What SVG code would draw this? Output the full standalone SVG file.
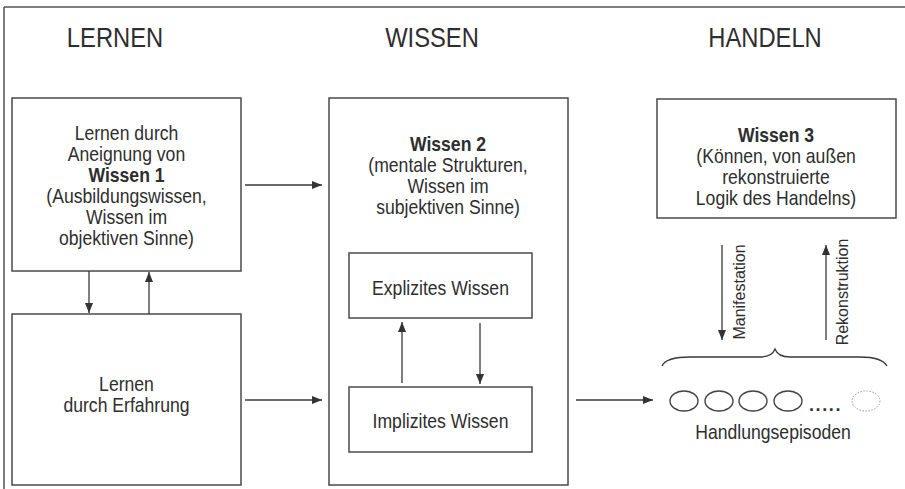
<svg xmlns="http://www.w3.org/2000/svg" width="905" height="489" viewBox="0 0 905 489">
<style>
.box{fill:#fff;stroke:#4a4a4a;stroke-width:1.5}
.t{font-family:"Liberation Sans",Arial,sans-serif;font-size:20px;fill:#2e2e2e;text-anchor:middle}
.b{font-weight:bold}
.title{font-family:"Liberation Sans",Arial,sans-serif;font-size:27px;fill:#2e2e2e;text-anchor:middle}
.v{font-family:"Liberation Sans",Arial,sans-serif;font-size:16px;fill:#2e2e2e;text-anchor:middle}
.c{fill:none;stroke:#3a3a3a;stroke-width:1.3}
.ov{fill:none;stroke:#444;stroke-width:1.4}
</style>
<defs>
<marker id="ah" markerUnits="userSpaceOnUse" markerWidth="10" markerHeight="8" refX="10" refY="4" orient="auto">
<path d="M0,0 L10,4 L0,8 z" fill="#333"/>
</marker>
</defs>
<rect width="905" height="489" fill="#fff"/>
<g id="frame" fill="none" stroke="#555" stroke-width="1.5">
<line x1="4" y1="7" x2="905" y2="7"/>
<line x1="4" y1="7" x2="4" y2="489"/>
</g>
<g id="titles">
<g transform="translate(115 0) scale(0.88 1)"><text class="title" x="0" y="47">LERNEN</text></g>
<g transform="translate(432 0) scale(0.88 1)"><text class="title" x="0" y="47">WISSEN</text></g>
<g transform="translate(765 0) scale(0.88 1)"><text class="title" x="0" y="47">HANDELN</text></g>
</g>
<g id="wissen1">
<rect class="box" x="12" y="98" width="229" height="173"/>
<g transform="translate(126.5 0) scale(0.88 1)">
<text class="t" x="0" y="140">Lernen durch</text>
<text class="t" x="0" y="161">Aneignung von</text>
<text class="t b" x="0" y="182">Wissen 1</text>
<text class="t" x="0" y="203">(Ausbildungswissen,</text>
<text class="t" x="0" y="224">Wissen im</text>
<text class="t" x="0" y="245">objektiven Sinne)</text>
</g>
</g>
<g id="erfahrung">
<rect class="box" x="12" y="314" width="229" height="171"/>
<g transform="translate(126.5 0) scale(0.88 1)">
<text class="t" x="0" y="391">Lernen</text>
<text class="t" x="0" y="412">durch Erfahrung</text>
</g>
</g>
<g id="wissen2">
<rect class="box" x="329" y="98" width="239" height="387"/>
<g transform="translate(448 0) scale(0.88 1)">
<text class="t b" x="0" y="151">Wissen 2</text>
<text class="t" x="0" y="172">(mentale Strukturen,</text>
<text class="t" x="0" y="193">Wissen im</text>
<text class="t" x="0" y="214">subjektiven Sinne)</text>
</g>
</g>
<g id="explizit">
<rect class="box" x="349" y="253" width="183" height="65"/>
<g transform="translate(440.5 0) scale(0.88 1)"><text class="t" x="0" y="295">Explizites Wissen</text></g>
</g>
<g id="implizit">
<rect class="box" x="349" y="387" width="183" height="65"/>
<g transform="translate(440.5 0) scale(0.88 1)"><text class="t" x="0" y="428">Implizites Wissen</text></g>
</g>
<g id="wissen3">
<rect class="box" x="657" y="99" width="239" height="119"/>
<g transform="translate(776 0) scale(0.88 1)">
<text class="t b" x="0" y="142">Wissen 3</text>
<text class="t" x="0" y="163">(Können, von außen</text>
<text class="t" x="0" y="184">rekonstruierte</text>
<text class="t" x="0" y="205">Logik des Handelns)</text>
</g>
</g>
<g id="episoden">
<ellipse class="ov" cx="684" cy="401" rx="14" ry="10"/>
<ellipse class="ov" cx="719" cy="401" rx="14" ry="10"/>
<ellipse class="ov" cx="753" cy="401" rx="14" ry="10"/>
<ellipse class="ov" cx="788" cy="401" rx="14" ry="10"/>
<text x="809" y="411" font-family="Liberation Sans, Arial, sans-serif" font-size="18" font-weight="bold" fill="#333" letter-spacing="1.6">.....</text>
<ellipse cx="866" cy="401" rx="14" ry="10" fill="none" stroke="#999" stroke-width="1" stroke-dasharray="1.5 1.5"/>
<g transform="translate(773 0) scale(0.88 1)"><text class="t" x="0" y="439">Handlungsepisoden</text></g>
</g>
<g id="connectors">
<line class="c" x1="245" y1="185" x2="322" y2="185" marker-end="url(#ah)"/>
<line class="c" x1="245" y1="400" x2="322" y2="400" marker-end="url(#ah)"/>
<line class="c" x1="576" y1="400" x2="653" y2="400" marker-end="url(#ah)"/>
<line class="c" x1="89" y1="271" x2="89" y2="313" marker-end="url(#ah)"/>
<line class="c" x1="149" y1="314" x2="149" y2="272" marker-end="url(#ah)"/>
<line class="c" x1="402" y1="383" x2="402" y2="322" marker-end="url(#ah)"/>
<line class="c" x1="480" y1="323" x2="480" y2="384" marker-end="url(#ah)"/>
<line class="c" x1="722" y1="245" x2="722" y2="340" marker-end="url(#ah)"/>
<line class="c" x1="826" y1="340" x2="826" y2="245" marker-end="url(#ah)"/>
<path class="c" d="M662,366 Q666,357 690,357 L760,357 Q772,357 775,349 Q778,357 790,357 L860,357 Q882,357 887,366"/>
</g>
<g id="labels">
<text class="v" transform="translate(745 292) rotate(-90)">Manifestation</text>
<text class="v" transform="translate(848 292) rotate(-90)">Rekonstruktion</text>
</g>
</svg>
